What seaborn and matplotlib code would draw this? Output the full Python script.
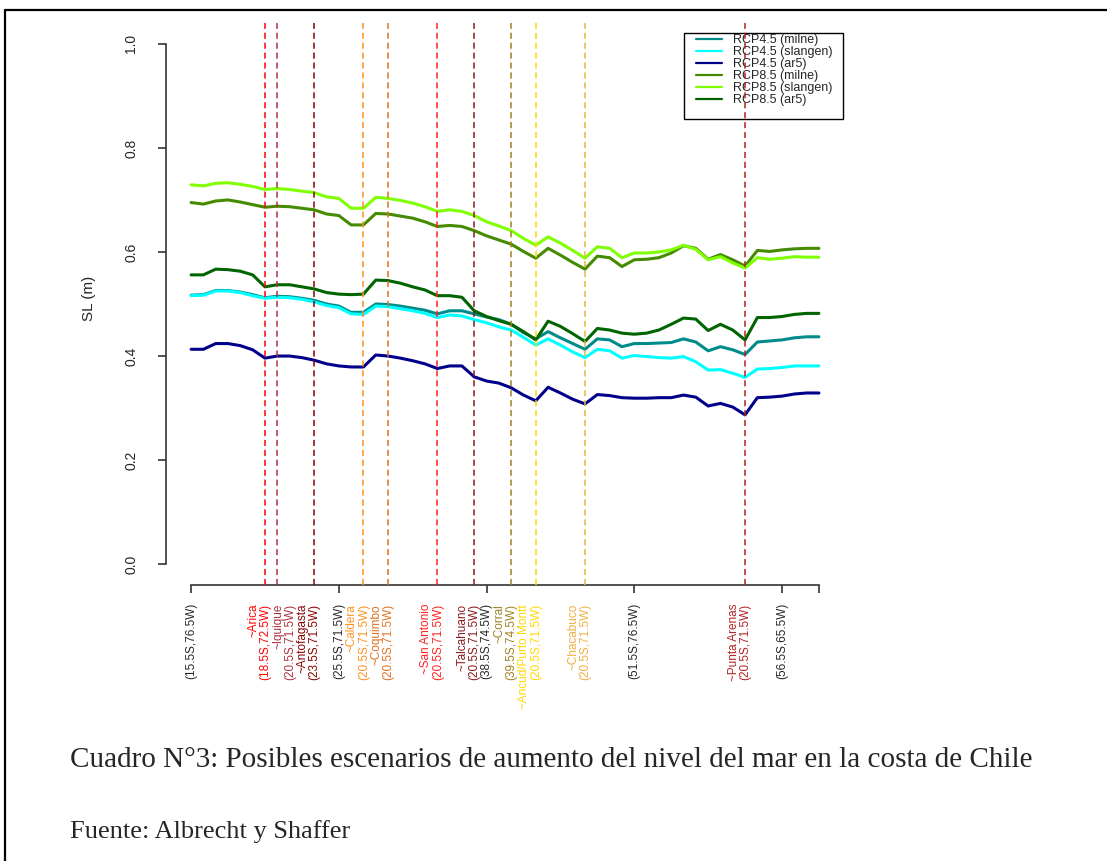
import matplotlib.pyplot as plt
import matplotlib.transforms as mtransforms
from matplotlib.lines import Line2D
from matplotlib.patches import Rectangle
import pandas as pd
import seaborn as sns

# grid cell index along the coast (north -> south)
idx = list(range(1, 53))

rcp45_milne = [0.517, 0.518, 0.526, 0.526, 0.523, 0.518, 0.512, 0.515, 0.514, 0.511, 0.507, 0.500, 0.496,
               0.484, 0.484, 0.500, 0.499, 0.496, 0.492, 0.488, 0.481, 0.487, 0.487, 0.481, 0.475, 0.470,
               0.461, 0.445, 0.433, 0.447, 0.435, 0.424, 0.413, 0.433, 0.431, 0.418, 0.424, 0.424, 0.425,
               0.426, 0.433, 0.427, 0.410, 0.418, 0.412, 0.403, 0.427, 0.429, 0.431, 0.435, 0.437, 0.437]
rcp45_slangen = [0.516, 0.517, 0.525, 0.525, 0.522, 0.516, 0.511, 0.513, 0.512, 0.509, 0.504, 0.497, 0.493,
                 0.481, 0.480, 0.496, 0.495, 0.491, 0.487, 0.482, 0.474, 0.479, 0.477, 0.470, 0.464, 0.456,
                 0.450, 0.436, 0.421, 0.433, 0.421, 0.408, 0.397, 0.413, 0.410, 0.396, 0.401, 0.399, 0.397,
                 0.396, 0.399, 0.389, 0.373, 0.374, 0.367, 0.359, 0.375, 0.376, 0.378, 0.381, 0.381, 0.381]
rcp45_ar5 = [0.413, 0.413, 0.424, 0.424, 0.420, 0.412, 0.396, 0.400, 0.400, 0.397, 0.392, 0.385, 0.381,
             0.379, 0.379, 0.402, 0.400, 0.396, 0.391, 0.385, 0.376, 0.381, 0.381, 0.360, 0.352, 0.348,
             0.339, 0.325, 0.314, 0.340, 0.329, 0.317, 0.308, 0.326, 0.324, 0.320, 0.319, 0.319, 0.320,
             0.320, 0.325, 0.321, 0.304, 0.309, 0.302, 0.287, 0.320, 0.321, 0.323, 0.327, 0.329, 0.329]
rcp85_milne = [0.695, 0.692, 0.698, 0.700, 0.696, 0.691, 0.686, 0.688, 0.687, 0.684, 0.681, 0.673, 0.670,
               0.652, 0.652, 0.674, 0.673, 0.669, 0.665, 0.658, 0.649, 0.651, 0.649, 0.641, 0.631, 0.623,
               0.615, 0.601, 0.588, 0.607, 0.594, 0.580, 0.567, 0.592, 0.589, 0.572, 0.585, 0.586, 0.589,
               0.598, 0.612, 0.607, 0.586, 0.595, 0.585, 0.573, 0.603, 0.601, 0.604, 0.606, 0.607, 0.607]
rcp85_slangen = [0.729, 0.727, 0.732, 0.733, 0.730, 0.726, 0.720, 0.722, 0.720, 0.717, 0.714, 0.706, 0.703,
                 0.684, 0.684, 0.705, 0.703, 0.699, 0.694, 0.687, 0.678, 0.681, 0.678, 0.670, 0.658, 0.650,
                 0.641, 0.626, 0.613, 0.629, 0.617, 0.603, 0.588, 0.610, 0.607, 0.589, 0.598, 0.598, 0.600,
                 0.604, 0.613, 0.605, 0.585, 0.591, 0.579, 0.569, 0.589, 0.586, 0.588, 0.591, 0.590, 0.590]
rcp85_ar5 = [0.556, 0.556, 0.567, 0.566, 0.563, 0.556, 0.533, 0.537, 0.537, 0.533, 0.529, 0.522, 0.519,
             0.518, 0.519, 0.546, 0.545, 0.540, 0.533, 0.527, 0.516, 0.516, 0.513, 0.487, 0.476, 0.468,
             0.461, 0.447, 0.431, 0.467, 0.457, 0.443, 0.428, 0.453, 0.450, 0.444, 0.442, 0.444, 0.450,
             0.461, 0.473, 0.471, 0.449, 0.461, 0.450, 0.431, 0.474, 0.474, 0.476, 0.480, 0.482, 0.482]

series_names = ["RCP4.5 (milne)", "RCP4.5 (slangen)", "RCP4.5 (ar5)",
                "RCP8.5 (milne)", "RCP8.5 (slangen)", "RCP8.5 (ar5)"]
series_values = [rcp45_milne, rcp45_slangen, rcp45_ar5, rcp85_milne, rcp85_slangen, rcp85_ar5]
series_colors = ["#008B8B", "#00FFFF", "#00008B", "#458B00", "#7FFF00", "#006400"]

# axis ticks with grid-cell coordinates
major_idx = [1, 13, 25, 37, 49, 52]
major_labels = ["(15.5S,76.5W)", "(25.5S,71.5W)", "(38.5S,74.5W)", "(51.5S,76.5W)", "(56.5S,65.5W)", ""]

# nearest grid cell for each city
site_idx = [7, 8, 11, 15, 17, 21, 24, 27, 29, 33, 46]
site_names = ["~Arica", "~Iquique", "~Antofagasta", "~Caldera", "~Coquimbo", "~San Antonio",
              "~Talcahuano", "~Corral", "~Ancud/Purto Montt", "~Chacabuco", "~Punta Arenas"]
site_coords = ["(18.5S,72.5W)", "(20.5S,71.5W)", "(23.5S,71.5W)", "(20.5S,71.5W)", "(20.5S,71.5W)",
               "(20.5S,71.5W)", "(20.5S,71.5W)", "(39.5S,74.5W)", "(20.5S,71.5W)", "(20.5S,71.5W)",
               "(20.5S,71.5W)"]
site_colors = ["#FF0000", "#B03040", "#8B0000", "#FF9020", "#E07020", "#FF2020",
               "#8B1A1A", "#A08020", "#FFD700", "#F0B040", "#B22222"]

sns.set_style("white")
plt.rcParams["font.family"] = ["Liberation Sans", "DejaVu Sans"]

df = pd.DataFrame({
    "idx": idx * len(series_names),
    "sl": [v for vals in series_values for v in vals],
    "series": [n for n in series_names for _ in idx],
})

fig = plt.figure(figsize=(11.07, 8.61), dpi=100)
ax = fig.add_axes([0.14995, 0.32056, 0.6125, 0.6527])

sns.lineplot(data=df, x="idx", y="sl", hue="series", hue_order=series_names,
             palette=dict(zip(series_names, series_colors)), linewidth=2.2, ax=ax)

# R-style legend: box with spare room below the entries
ax.add_patch(Rectangle((0.764, 0.8292), 0.2345, 0.153, transform=ax.transAxes,
                       facecolor="white", edgecolor="black", lw=1.0, zorder=1, clip_on=False))
leg = ax.legend(loc="upper left", bbox_to_anchor=(0.781, 0.980), borderaxespad=0, fontsize=9,
                frameon=False, handlelength=2.1, handletextpad=0.9, labelspacing=0.0, borderpad=0)
for h in leg.get_lines():
    h.set_linewidth(1.6)
leg.set_zorder(1.5)

for x, c in zip(site_idx, site_colors):
    ax.axvline(x, color=c, linestyle=(0, (4, 2.5)), lw=1.1, zorder=3)

trans = mtransforms.blended_transform_factory(ax.transData, ax.transAxes)
for x, name, coord, c in zip(site_idx, site_names, site_coords, site_colors):
    dx = 0.07 if name == "~Iquique" else -0.055
    off = mtransforms.ScaledTranslation(dx, -0.19, fig.dpi_scale_trans)
    ax.text(x, 0, f"{name}\n{coord}", transform=trans + off, rotation=90, ha="center", va="top",
            multialignment="right", color=c, fontsize=8.5, linespacing=1.0, clip_on=False)

ax.set_xlim(-1.04, 54.04)
ax.set_ylim(-0.04, 1.04)
ax.set_xticks(major_idx, major_labels)
ax.set_yticks([0.0, 0.2, 0.4, 0.6, 0.8, 1.0], ["0.0", "0.2", "0.4", "0.6", "0.8", "1.0"])
ax.tick_params(axis="x", bottom=True, length=6, width=1.2, color="#333333", pad=7,
               labelrotation=90, labelsize=8.5)
ax.tick_params(axis="y", left=True, length=6, width=1.2, color="#333333", pad=14,
               labelrotation=90, labelsize=10)
for lab in ax.get_yticklabels():
    lab.set_va("center")
ax.set_xlabel("")
ax.set_ylabel("SL (m)", fontsize=11)
ax.yaxis.set_label_coords(-0.103, 0.51)

sns.despine(ax=ax, top=True, right=True)
ax.spines["left"].set_bounds(0, 1)
ax.spines["bottom"].set_bounds(1, 52)
for s in ("left", "bottom"):
    ax.spines[s].set_color("#333333")
    ax.spines[s].set_linewidth(1.2)

fig.text(70 / 1107, 1 - 760 / 861,
         "Cuadro N°3: Posibles escenarios de aumento del nivel del mar en la costa de Chile",
         family="Liberation Serif", fontsize=21, ha="left", va="center")
fig.text(70 / 1107, 1 - 832 / 861, "Fuente: Albrecht y Shaffer",
         family="Liberation Serif", fontsize=19, ha="left", va="center")

# frame of the document cell
fig.add_artist(Line2D([0.0045, 1.0], [0.9884, 0.9884], transform=fig.transFigure, color="black", lw=1.6))
fig.add_artist(Line2D([0.0045, 0.0045], [0.0, 0.9884], transform=fig.transFigure, color="black", lw=1.6))

fig.savefig("out.png", dpi=100)
plt.close(fig)
